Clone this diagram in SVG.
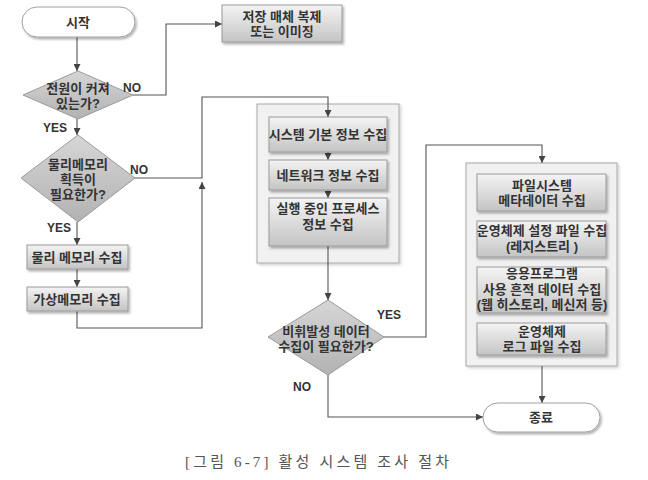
<svg xmlns="http://www.w3.org/2000/svg" width="648" height="480" viewBox="0 0 648 480">
<style>
text{font-family:"Liberation Sans","Noto Sans CJK KR",sans-serif;font-weight:bold;fill:#333;font-size:13px;text-anchor:middle}
.lbl{font-size:12px;text-anchor:start}
.box{fill:url(#gBox);stroke:#9a9a9a;stroke-width:1;filter:url(#sh)}
.panel{fill:#f1f1f1;stroke:#a8a8a8;stroke-width:1;filter:url(#sh2)}
.dia{fill:url(#gDia);stroke:#9a9a9a;stroke-width:1}
.term{fill:#fff;stroke:#a0a0a0;stroke-width:1;filter:url(#sh)}
.con{fill:none;stroke:#555;stroke-width:1.1}
.cap{font-family:"Liberation Serif","Noto Sans CJK KR",serif;font-weight:normal;font-size:15px;fill:#555}
</style>
<defs>
<linearGradient id="gBox" x1="0" y1="0" x2="0" y2="1">
<stop offset="0" stop-color="#f4f4f4"/>
<stop offset="1" stop-color="#c4c4c4"/>
</linearGradient>
<linearGradient id="gDia" x1="0" y1="0" x2="0" y2="1">
<stop offset="0" stop-color="#d6d6d6"/>
<stop offset="1" stop-color="#b2b2b2"/>
</linearGradient>
<filter id="sh" x="-10%" y="-20%" width="125%" height="150%">
<feDropShadow dx="1.5" dy="2" stdDeviation="1.2" flood-color="#000" flood-opacity="0.3"/>
</filter>
<filter id="sh2" x="-10%" y="-10%" width="125%" height="125%">
<feDropShadow dx="1.5" dy="1.5" stdDeviation="1.5" flood-color="#000" flood-opacity="0.2"/>
</filter>
<marker id="arr" viewBox="0 0 10 10" refX="10" refY="5" markerWidth="7" markerHeight="7" orient="auto" markerUnits="userSpaceOnUse">
<path d="M0,0 L10,5 L0,10 z" fill="#444"/>
</marker>
</defs>
<rect width="648" height="480" fill="#fff"/>

<g id="panel1"><rect class="panel" x="257" y="104" width="142" height="159"/></g>
<g id="panel2"><rect class="panel" x="466" y="163" width="151" height="203"/></g>

<g id="connectors">
<path class="con" d="M77,37 V71" marker-end="url(#arr)"/>
<path class="con" d="M133,95 H166 V24 H222" marker-end="url(#arr)"/>
<path class="con" d="M77,119 V135" marker-end="url(#arr)"/>
<path class="con" d="M135,178 H202 V97 H328 V117" marker-end="url(#arr)"/>
<path class="con" d="M77,222 V245" marker-end="url(#arr)"/>
<path class="con" d="M77,269 V287" marker-end="url(#arr)"/>
<path class="con" d="M77,311 V328 H202 V182" marker-end="url(#arr)"/>
<path class="con" d="M328,152 V160" marker-end="url(#arr)"/>
<path class="con" d="M328,190 V198" marker-end="url(#arr)"/>
<path class="con" d="M328,246 V300" marker-end="url(#arr)"/>
<path class="con" d="M383,337 H426 V145 H542 V163" marker-end="url(#arr)"/>
<path class="con" d="M328,375 V417 H483" marker-end="url(#arr)"/>
<path class="con" d="M542,366 V403" marker-end="url(#arr)"/>
</g>

<g id="start">
<rect class="term" x="22" y="7" width="113" height="30" rx="15"/>
<text x="78" y="27">시작</text>
</g>
<g id="clone">
<rect class="box" x="222" y="5" width="120" height="37"/>
<text x="282" y="21">저장 매체 복제<tspan x="282" dy="15">또는 이미징</tspan></text>
</g>
<g id="d1">
<path class="dia" d="M78,71 L133,95 L78,119 L23,95 z"/>
<text x="78" y="93">전원이 커져<tspan x="78" dy="15">있는가?</tspan></text>
</g>
<g id="d2">
<path class="dia" d="M78,135 L135,178 L78,222 L21,178 z"/>
<text x="78" y="169">물리메모리<tspan x="78" dy="15">획득이</tspan><tspan x="78" dy="15">필요한가?</tspan></text>
</g>
<g id="pm">
<rect class="box" x="27" y="245" width="101" height="24"/>
<text x="77" y="262">물리 메모리 수집</text>
</g>
<g id="vm">
<rect class="box" x="27" y="287" width="101" height="24"/>
<text x="77" y="304">가상메모리 수집</text>
</g>
<g id="sys">
<rect class="box" x="269" y="117" width="118" height="35"/>
<text x="328" y="139">시스템 기본 정보 수집</text>
</g>
<g id="net">
<rect class="box" x="269" y="160" width="118" height="30"/>
<text x="328" y="180">네트워크 정보 수집</text>
</g>
<g id="proc">
<rect class="box" x="269" y="198" width="118" height="48"/>
<text x="328" y="213">실행 중인 프로세스<tspan x="328" dy="16">정보 수집</tspan></text>
</g>
<g id="d3">
<path class="dia" d="M328,300 L384,337 L328,375 L268,337 z"/>
<text x="326" y="336">비휘발성 데이터<tspan x="326" dy="15">수집이 필요한가?</tspan></text>
</g>
<g id="fs">
<rect class="box" x="477" y="174" width="129" height="37"/>
<text x="542" y="190">파일시스템<tspan x="542" dy="15">메타데이터 수집</tspan></text>
</g>
<g id="reg">
<rect class="box" x="477" y="221" width="129" height="36"/>
<text x="542" y="235">운영체제 설정 파일 수집<tspan x="542" dy="16">(레지스트리 )</tspan></text>
</g>
<g id="app">
<rect class="box" x="477" y="267" width="129" height="46"/>
<text x="542" y="278">응용프로그램<tspan x="542" dy="16">사용 흔적 데이터 수집</tspan><tspan x="542" dy="15">(웹 히스토리, 메신저 등)</tspan></text>
</g>
<g id="log">
<rect class="box" x="477" y="323" width="129" height="32"/>
<text x="542" y="336">운영체제<tspan x="542" dy="15">로그 파일 수집</tspan></text>
</g>
<g id="end">
<rect class="term" x="483" y="403" width="117" height="29" rx="14.5"/>
<text x="541" y="422">종료</text>
</g>

<g id="labels">
<text class="lbl" x="123" y="92">NO</text>
<text class="lbl" x="43" y="132">YES</text>
<text class="lbl" x="130" y="174">NO</text>
<text class="lbl" x="47" y="232">YES</text>
<text class="lbl" x="377" y="319">YES</text>
<text class="lbl" x="293" y="391">NO</text>
</g>
<text class="cap" x="317" y="467" textLength="264" lengthAdjust="spacing">[그림 6-7] 활성 시스템 조사 절차</text>
</svg>
